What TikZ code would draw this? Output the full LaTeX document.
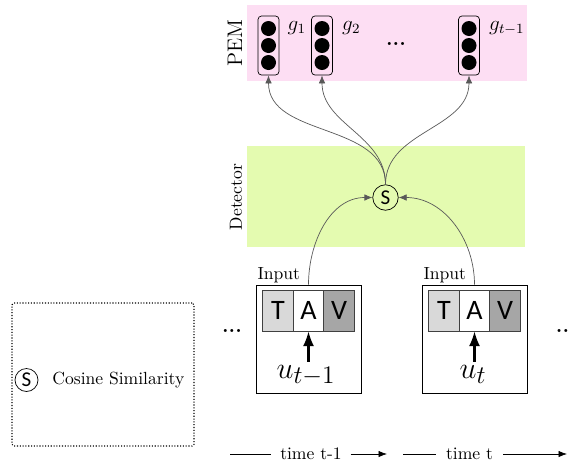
\documentclass[tikz,border=0pt]{standalone}
\usepackage{fontspec}
\newfontfamily\sansf{Carlito}
\usetikzlibrary{arrows.meta,positioning,calc}
\definecolor{pemcol}{RGB}{253,222,243}
\definecolor{detcol}{RGB}{228,251,176}
\definecolor{lgray}{RGB}{217,217,217}
\definecolor{dgray}{RGB}{166,166,166}

\begin{document}
\begin{tikzpicture}[>=Latex,
    band/.style={draw=none,inner sep=0},
    gbox/.style={draw,rounded corners=2pt,minimum width=0.42cm,minimum height=1.18cm,inner sep=0},
    ball/.style={circle,fill=black,minimum size=0.3cm,inner sep=0},
    cell/.style={draw=black!75,minimum width=0.613cm,minimum height=0.82cm,inner sep=0,font=\sansf\fontsize{16}{18}\selectfont},
    inbox/.style={draw,minimum width=2.1cm,minimum height=2.16cm,inner sep=0},
    sim/.style={draw,circle,inner sep=0,font=\sansf\large},
    lnk/.style={->,draw=black!65,line width=0.4pt,>={Latex[length=1.6mm,width=1.3mm]}}]
  \useasboundingbox (0,0) rectangle (11.46,-9.26);
  % bands
  \node[band,fill=pemcol,minimum width=5.6cm,minimum height=1.52cm] (pem) at (7.74,-0.86) {};
  \node[band,fill=detcol,minimum width=5.56cm,minimum height=2.02cm] (det) at (7.72,-3.93) {};
  \node[rotate=90,font=\large] (pemlbl) at (4.70,-0.86) {PEM};
  \node[rotate=90] (detlbl) at (4.72,-3.94) {Detector};
  % memory slots
  \node[gbox] (g1) at (5.37,-0.91) {};
  \node[gbox] (g2) at (6.44,-0.91) {};
  \node[gbox] (gt) at (9.38,-0.91) {};
  \foreach \g in {g1,g2,gt}
    \foreach \k/\dy in {a/0.34,b/0,c/-0.34}
      \node[ball] (\g\k) at ($(\g)+(0,\dy)$) {};
  \node[anchor=base west,inner sep=0,font=\large] (g1lbl) at ([xshift=0.16cm,yshift=-0.3cm]g1.north east) {$g_1$};
  \node[anchor=base west,inner sep=0,font=\large] (g2lbl) at ([xshift=0.18cm,yshift=-0.3cm]g2.north east) {$g_2$};
  \node[anchor=base west,inner sep=0,font=\large] (gtlbl) at ([xshift=0.18cm,yshift=-0.3cm]gt.north east) {$g_{t-1}$};
  \node (pdots) at (7.92,-0.88) {\large\textbf{...}};
  % detector
  \node[sim,minimum size=0.51cm] (s) at (7.71,-3.95) {S};
  % inputs
  \node[inbox] (in1) at (6.17,-6.78) {};
  \node[inbox] (in2) at (9.49,-6.78) {};
  \node[anchor=base west,inner sep=0] (in1lbl) at ([xshift=0.03cm,yshift=0.1cm]in1.north west) {Input};
  \node[anchor=base west,inner sep=0] (in2lbl) at ([xshift=0.03cm,yshift=0.1cm]in2.north west) {Input};
  \foreach \b in {1,2} {
    \node[cell,fill=lgray] (t\b) at ($(in\b)+(-0.613,0.57)$) {T};
    \node[cell,fill=white] (a\b) at ($(in\b)+(0,0.57)$) {A};
    \node[cell,fill=dgray] (v\b) at ($(in\b)+(0.613,0.57)$) {V};
  }
  \node[anchor=base,font=\fontsize{19}{22}\selectfont,inner sep=1.5pt] (u1) at (6.12,-7.56) {$u_{t-1}$};
  \node[anchor=base,font=\fontsize{19}{22}\selectfont,inner sep=1.5pt] (u2) at (9.46,-7.56) {$u_t$};
  \draw[->,line width=1.2pt] (u1.north -| a1) -- (a1.south);
  \draw[->,line width=1.2pt] (u2.north -| a2) -- (a2.south);
  \node (ldots) at (4.64,-6.62) {\large\textbf{...}};
  \node (rdots) at (11.25,-6.62) {\large\textbf{..}};
  % links
  \draw[lnk] (s.north) to[out=90,in=-90] (g1.south);
  \draw[lnk] (s.north) to[out=90,in=-90] (g2.south);
  \draw[lnk] (s.north) to[out=90,in=-90] (gt.south);
  \draw[lnk] (in1.north) to[out=90,in=180] (s.west);
  \draw[lnk] (in2.north) to[out=90,in=0] (s.east);
  % legend
  \node[draw,densely dotted,line width=0.6pt,rounded corners=1pt,minimum width=3.64cm,minimum height=2.86cm] (leg) at (2.06,-7.49) {};
  \node[sim,minimum size=0.46cm] (legs) at (0.53,-7.6) {S};
  \node[anchor=west,inner sep=0] (legtxt) at (1.04,-7.6) {Cosine Similarity};
  % time axis
  \coordinate (ta) at (4.60,-9.08);
  \node[inner xsep=0.17cm] (t1) at (6.22,-9.08) {time t-1};
  \coordinate (tb) at (7.74,-9.08);
  \coordinate (tc) at (8.06,-9.08);
  \node[inner xsep=0.2cm] (t2) at (9.39,-9.08) {time t};
  \coordinate (td) at (11.34,-9.08);
  \draw (ta) -- (t1);
  \draw[->] (t1) -- (tb);
  \draw (tc) -- (t2);
  \draw[->] (t2) -- (td);
\end{tikzpicture}
\end{document}
